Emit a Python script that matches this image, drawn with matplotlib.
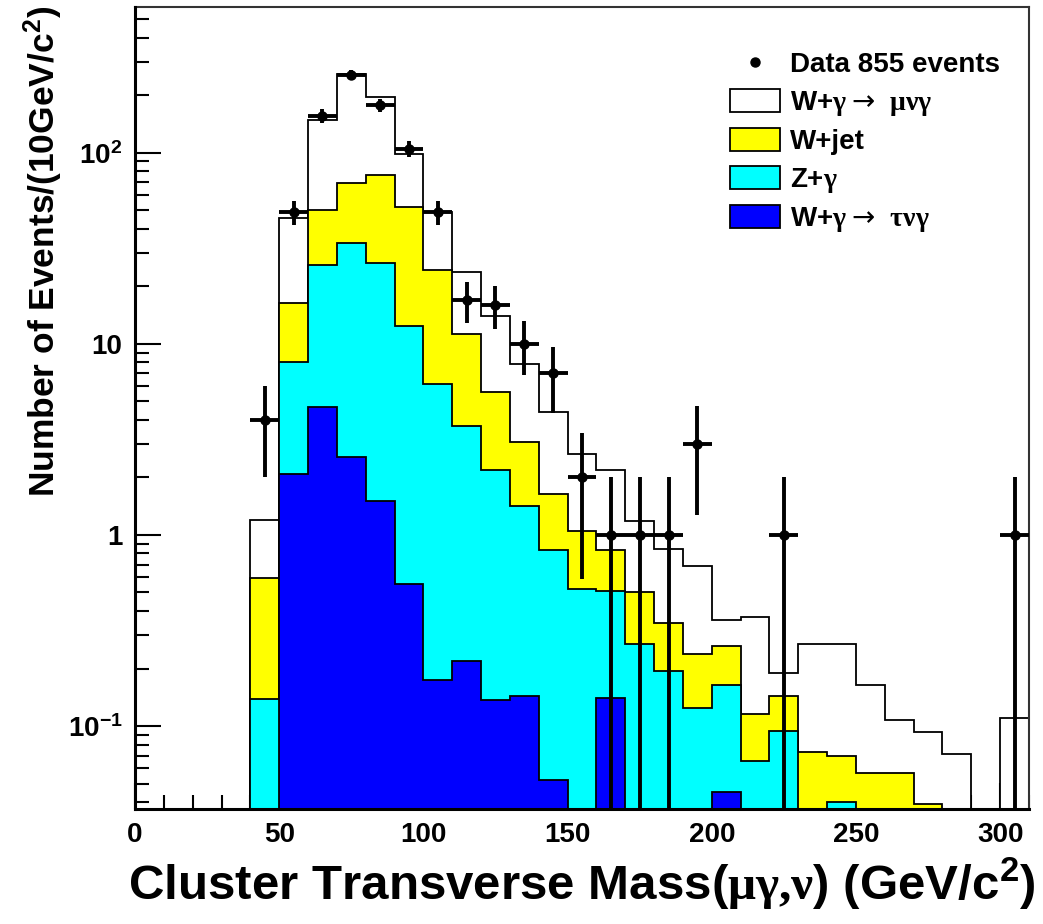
import numpy as np
import matplotlib
matplotlib.use("Agg")
import matplotlib.pyplot as plt
from matplotlib.patches import Patch
from matplotlib.lines import Line2D
from matplotlib.ticker import LogLocator, FixedLocator, FuncFormatter, MultipleLocator, NullFormatter

plt.rcParams['font.family'] = ['Liberation Sans', 'DejaVu Sans']
plt.rcParams['font.weight'] = 'bold'
plt.rcParams['mathtext.fontset'] = 'custom'
plt.rcParams['mathtext.rm'] = 'Liberation Serif'
plt.rcParams['mathtext.sf'] = 'DejaVu Sans:normal'
plt.rcParams['mathtext.bf'] = 'Liberation Sans:bold'
plt.rcParams['mathtext.default'] = 'bf'

# 10 GeV bins from 40 to 310 GeV/c^2
bin_edges = list(range(40, 320, 10))

# Expected events per bin for each process
w_tau_gamma = [0, 2.08, 4.69, 2.57, 1.51, 0.553, 0.175, 0.220, 0.137, 0.143, 0.052, 0,
               0.140, 0, 0, 0, 0.045, 0, 0, 0, 0, 0, 0, 0, 0, 0, 0]
z_gamma = [0.139, 5.97, 21.3, 31.1, 25.0, 11.85, 5.98, 3.49, 2.05, 1.28, 0.78, 0.524,
           0.37, 0.268, 0.195, 0.124, 0.119, 0.066, 0.094, 0, 0.040, 0, 0, 0, 0, 0, 0]
w_jet = [0.455, 8.35, 24.0, 36.1, 50.2, 39.6, 18.15, 7.49, 3.41, 1.63, 0.80, 0.526,
         0.32, 0.232, 0.153, 0.115, 0.099, 0.050, 0.049, 0.073, 0.030, 0.057, 0.057,
         0.039, 0, 0, 0]
w_mu_gamma = [0.606, 29.0, 99, 189, 120, 47, 24.7, 12.5, 8.4, 4.75, 2.78, 1.59,
              1.37, 0.69, 0.50, 0.45, 0.097, 0.254, 0.047, 0.195, 0.198, 0.106, 0.051,
              0.054, 0.071, 0, 0.11]

# Observed events per bin
data_counts = [4, 49, 156, 255, 177, 105, 49, 17, 16, 10, 7, 2, 1, 1, 1, 3, 0, 0, 1,
               0, 0, 0, 0, 0, 0, 0, 1]

labels = [r"W+$\mathrm{\gamma}\mathsf{\rightarrow}\ \mathrm{\mu\nu\gamma}$", "W+jet",
          r"Z+$\mathrm{\gamma}$",
          r"W+$\mathrm{\gamma}\mathsf{\rightarrow}\ \mathrm{\tau\nu\gamma}$"]
colors = ["#ffffff", "#ffff00", "#00ffff", "#0000ff"]

edges = np.array(bin_edges, dtype=float)
layers = [np.array(w_tau_gamma), np.array(z_gamma), np.array(w_jet), np.array(w_mu_gamma)]
cum = np.cumsum(layers, axis=0)  # tau, tau+Z, tau+Z+Wjet, total
floor = 1e-3

fig = plt.figure(figsize=(10.43, 9.24), dpi=100)
ax = fig.add_axes([135 / 1043, (924 - 809) / 924, 894 / 1043, 802 / 924])
ax.set_yscale('log')

# Stacked histograms, drawn from the full sum down to the lowest component
stack_colors = ["#0000ff", "#00ffff", "#ffff00", "#ffffff"]
for i in range(3, -1, -1):
    top = np.where(cum[i] > 0, cum[i], floor)
    ax.stairs(top, edges, baseline=floor, fill=True, facecolor=stack_colors[i],
              edgecolor='none', zorder=2 + (3 - i) * 0.1)
    ax.stairs(top, edges, baseline=floor, fill=False, color='black', lw=1.3,
              zorder=2.05 + (3 - i) * 0.1)

# Data with Poisson errors
counts = np.array(data_counts, dtype=float)
centers = 0.5 * (edges[:-1] + edges[1:])
mask = counts > 0
y = counts[mask]
err = np.sqrt(y)
lower = np.minimum(err, y - floor)
ax.errorbar(centers[mask], y, yerr=[lower, err], xerr=5, fmt='o', color='black',
            ms=6.5, elinewidth=2.8, capsize=0, zorder=5)

ax.set_xlim(0, 310)
ax.set_ylim(0.0368, 579)

ax.xaxis.set_major_locator(MultipleLocator(50))
ax.xaxis.set_minor_locator(MultipleLocator(10))
ax.yaxis.set_major_locator(FixedLocator([0.1, 1, 10, 100]))
ax.yaxis.set_minor_locator(LogLocator(base=10, subs=np.arange(2, 10)))
ax.yaxis.set_minor_formatter(NullFormatter())

ylabels = {0.1: r"$\mathbf{10^{-1}}$", 1: "1", 10: "10", 100: r"$\mathbf{10^{2}}$"}
ax.yaxis.set_major_formatter(FuncFormatter(lambda v, p: ylabels.get(round(v, 3), "")))

ax.tick_params(which='both', direction='in', top=False, right=False, width=1.5,
               labelsize=20, zorder=10)
ax.tick_params(which='major', length=19)
ax.tick_params(which='minor', length=10)
ax.tick_params(axis='x', pad=9)
ax.tick_params(axis='y', pad=9)
for lab in ax.get_xticklabels() + ax.get_yticklabels():
    lab.set_fontweight('bold')

for side in ['left', 'bottom']:
    ax.spines[side].set_linewidth(2.2)
    ax.spines[side].set_zorder(10)
for side in ['top', 'right']:
    ax.spines[side].set_linewidth(1.5)
    ax.spines[side].set_color('#333333')

fig.text(43 / 1043, 1 - 6 / 924, r"Number of Events/(10GeV/c$^{2}$)", rotation=90,
         ha='center', va='top', fontsize=25.5, fontweight='bold')
fig.text(1036 / 1043, 1 - 884 / 924,
         r"Cluster Transverse Mass($\mathrm{\mu\gamma{,}\nu}$) (GeV/c$^{2}$)",
         ha='right', va='center', fontsize=35.5, fontweight='bold')

handles = [Line2D([], [], marker='o', color='black', ls='none', ms=6.5)]
labs = ["Data 855 events"]
for c, l in zip(colors, labels):
    handles.append(Patch(facecolor=c, edgecolor='black', lw=1.3))
    labs.append(l)
leg = ax.legend(handles, labs, loc='upper left', bbox_to_anchor=(0.6655, 0.945),
                frameon=False, handlelength=1.8, handleheight=0.9,
                handletextpad=0.36, labelspacing=0.375, borderpad=0, borderaxespad=0,
                prop={'weight': 'bold', 'size': 20})
leg.set_zorder(20)

fig.savefig("out.png", dpi=100)
